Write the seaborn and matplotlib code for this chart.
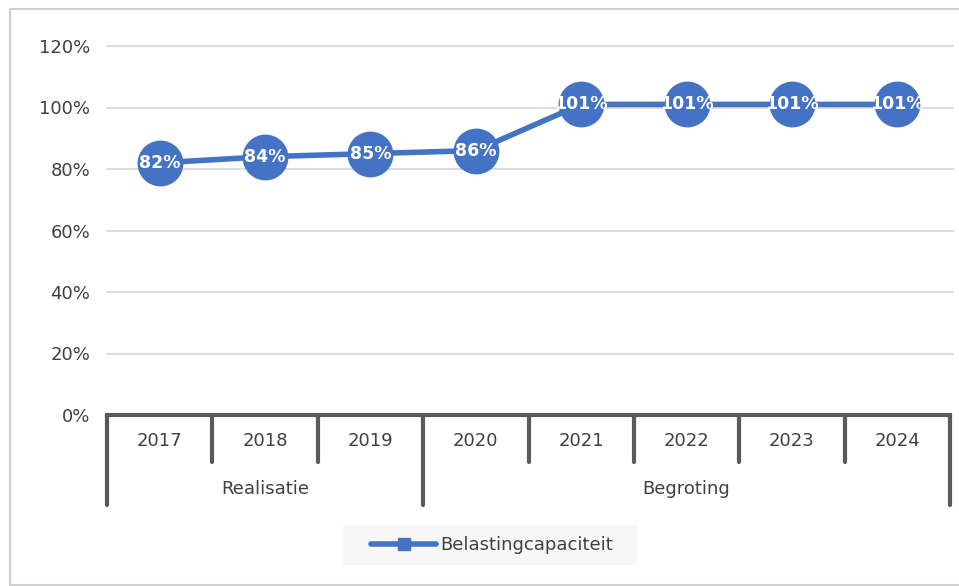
import matplotlib.pyplot as plt
import seaborn as sns
import pandas as pd
from matplotlib.lines import Line2D
from matplotlib.patches import Rectangle

years = ['2017', '2018', '2019', '2020', '2021', '2022', '2023', '2024']
values = [82, 84, 85, 86, 101, 101, 101, 101]
groups = ['Realisatie', 'Begroting']
group_sizes = [3, 5]
series_name = 'Belastingcapaciteit'
y_ticks = [0, 20, 40, 60, 80, 100, 120]

blue = '#4472C4'
grid_col = '#D9D9D9'
axis_col = '#595959'
text_col = '#404040'

sns.set_style('white')
plt.rcParams['font.family'] = ['DejaVu Sans']

df = pd.DataFrame({'pos': range(len(years)), 'value': [v / 100 for v in values]})

W, H = 959, 586
fig = plt.figure(figsize=(W / 100, H / 100), dpi=100)
ax = fig.add_axes([107 / W, (H - 415) / H, (950 - 107) / W, (415 - 46) / H])

# outer chart border
fig.add_artist(Line2D([10 / W, 10 / W, 1], [0.5 / H, 1 - 9 / H, 1 - 9 / H],
                      transform=fig.transFigure, color='#D0D0D0', lw=1.5))
fig.add_artist(Line2D([10 / W, 1], [1.5 / H, 1.5 / H],
                      transform=fig.transFigure, color='#D0D0D0', lw=1.5))

sns.lineplot(data=df, x='pos', y='value', ax=ax, color=blue, lw=4,
             marker='o', markersize=33, markeredgewidth=0, zorder=3)

for p, v in zip(df['pos'], values):
    ax.text(p, v / 100, f'{v}%', ha='center', va='center', color='white',
            fontsize=12.5, fontweight='bold', zorder=4)

ax.set_xlim(-0.5, len(years) - 0.5)
ax.set_ylim(0, 1.2)
ax.set_yticks([t / 100 for t in y_ticks])
ax.set_yticklabels([f'{t}%' for t in y_ticks], color=text_col, fontsize=13)
ax.tick_params(axis='y', length=0, pad=12)
ax.set_xticks([])
ax.set_xlabel('')
ax.set_ylabel('')
for t in y_ticks[1:]:
    ax.axhline(t / 100, color=grid_col, lw=1.3, zorder=1, xmax=1.003, clip_on=False)
for s in ax.spines.values():
    s.set_visible(False)

# multi-level category axis
tr = ax.get_xaxis_transform()
ax.plot([-0.5, len(years) - 0.5], [0, 0], transform=tr, color=axis_col, lw=3,
        clip_on=False, zorder=2, solid_capstyle='projecting')
lvl1 = -47 / 369
lvl2 = -90 / 369
boundaries = [-0.5]
for s in group_sizes:
    boundaries.append(boundaries[-1] + s)
for k in range(len(years) + 1):
    xb = k - 0.5
    bottom = lvl2 if xb in boundaries else lvl1
    ax.plot([xb, xb], [0, bottom], transform=tr, color=axis_col, lw=3,
            clip_on=False, zorder=2)
for i, y in enumerate(years):
    ax.text(i, -26 / 369, y, transform=tr, ha='center', va='center',
            color=text_col, fontsize=13)
for g, a, b in zip(groups, boundaries[:-1], boundaries[1:]):
    ax.text((a + b) / 2, -74 / 369, g, transform=tr, ha='center', va='center',
            color=text_col, fontsize=13)

# legend with a light background box
fig.add_artist(Rectangle((343 / W, (H - 565) / H), 294 / W, 40 / H,
                         transform=fig.transFigure, facecolor='#F7F7F7',
                         edgecolor='none', zorder=0))
handle = Line2D([], [], color=blue, lw=4, marker='s', markersize=8)
leg = fig.legend([handle], [series_name], loc='center',
                 bbox_to_anchor=(492 / W, (H - 545) / H), frameon=False,
                 fontsize=13, handlelength=3.6, handletextpad=0.2,
                 borderpad=0, borderaxespad=0)
for t in leg.get_texts():
    t.set_color(text_col)

fig.savefig('out.png', dpi=100)
